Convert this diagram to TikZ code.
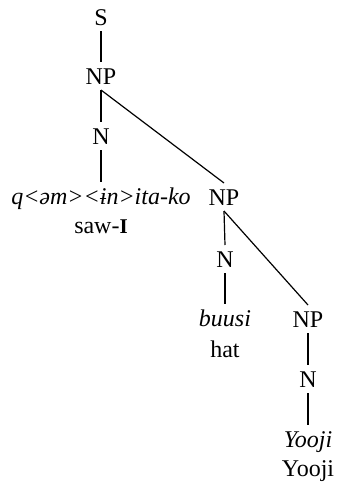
\documentclass[tikz,border=0pt]{standalone}
\usepackage{fontspec}
\setmainfont{Liberation Serif}
\begin{document}
\begin{tikzpicture}[x=1pt,y=1pt,
  lab/.style={inner sep=0pt, outer sep=6pt, text height=16pt, text depth=0pt, anchor=base, font=\fontsize{24}{28}\selectfont},
  word/.style={lab, font=\fontsize{24}{28}\selectfont\itshape},
  gloss/.style={inner sep=0pt, outer sep=0pt, anchor=base, font=\fontsize{24}{28}\selectfont},
  edge/.style={line width=1.2pt}]
\useasboundingbox (0,0) rectangle (338,-483);
\node[lab] (S) at (101,-25) {S};
\node[lab] (NPa) at (101,-84) {NP};
\node[lab] (Na) at (101,-144) {N};
\node[word] (wa) at (101,-204) {q<əm><ɨn>ita-ko};
\node[gloss] (ga) at (101,-233) {saw-{\fontsize{21}{21}\selectfont\bfseries I}};
\node[lab] (NPb) at (224,-205) {NP};
\node[lab] (Nb) at (225,-267) {N};
\node[word] (wb) at (225,-326) {buusi};
\node[gloss] (gb) at (225,-357) {hat};
\node[lab] (NPc) at (308,-327) {NP};
\node[lab] (Nc) at (308,-387) {N};
\node[word] (wc) at (308,-447) {Yooji};
\node[gloss] (gc) at (308,-476) {Yooji};
\draw[edge] (S.south) -- (NPa.north);
\draw[edge] (NPa.south) -- (Na.north);
\draw[edge] (Na.south) -- (wa.north);
\draw[edge] (NPa.south) -- (NPb.north);
\draw[edge] (NPb.south) -- (Nb.north);
\draw[edge] (Nb.south) -- (wb.north);
\draw[edge] (NPb.south) -- (NPc.north);
\draw[edge] (NPc.south) -- (Nc.north);
\draw[edge] (Nc.south) -- (wc.north);
\end{tikzpicture}
\end{document}
